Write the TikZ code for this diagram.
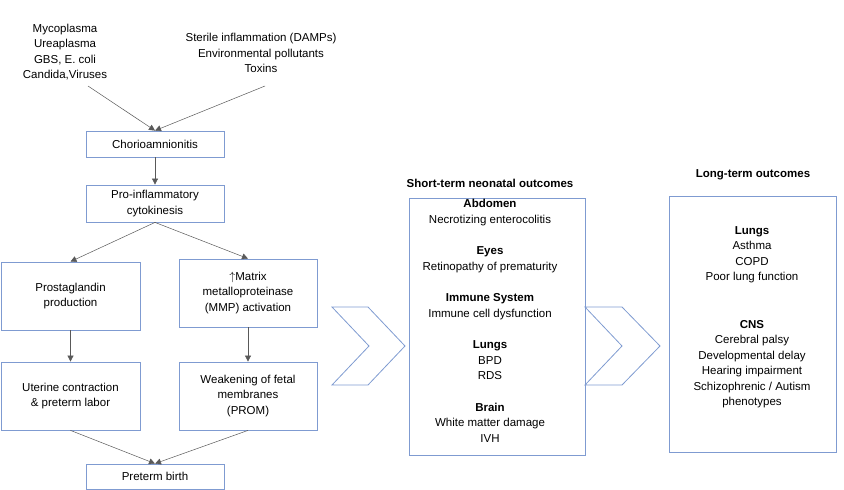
\documentclass[tikz,border=0pt]{standalone}
\usepackage{fontspec}
\setmainfont{Liberation Sans}
\usetikzlibrary{arrows.meta}
\begin{document}
\begin{tikzpicture}[x=1pt,y=-1pt,
  box/.style={draw=boxc,line width=0.8pt,align=center,inner sep=0pt,font=\fontsize{11.5}{15.5}\selectfont},
  txt/.style={align=center,inner sep=0pt,font=\fontsize{11.5}{15.5}\selectfont},
  arr/.style={draw=arrc,line width=0.7pt,-{Triangle[length=6pt,width=6pt]}},
  thin/.style={draw=arrc,line width=0.5pt,-{Triangle[length=6pt,width=6pt]}},
  chev/.style={draw=boxc,line width=0.8pt}]
\definecolor{boxc}{HTML}{7F9BD1}
\definecolor{arrc}{HTML}{595959}
\useasboundingbox (0,0) rectangle (844,490);
\node[txt] (src1) at (65,52) {Mycoplasma\\Ureaplasma\\GBS, E. coli\\Candida,Viruses};
\node[txt] (src2) at (261,53) {Sterile inflammation (DAMPs)\\Environmental pollutants\\Toxins};
\node[box,minimum width=138pt,minimum height=26pt] (cho) at (155,144) {Chorioamnionitis};
\node[box,minimum width=138pt,minimum height=37pt] (pro) at (155,203.5) {Pro-inflammatory\\cytokinesis};
\node[box,minimum width=139pt,minimum height=68pt] (pg) at (70.5,296) {Prostaglandin\\production};
\node[box,minimum width=138pt,minimum height=68pt] (mmp) at (248,293) {$\uparrow$Matrix\\metalloproteinase\\(MMP) activation};
\node[box,minimum width=139pt,minimum height=68pt] (ut) at (70.5,396) {Uterine contraction\\\& preterm labor};
\node[box,minimum width=138pt,minimum height=68pt] (wk) at (248,396) {Weakening of fetal\\membranes\\(PROM)};
\node[box,minimum width=138pt,minimum height=25pt] (pb) at (155,476.5) {Preterm birth};
\coordinate (c1) at (88,86);
\coordinate (c2) at (265,86);
\draw[thin] (c1) -- (cho.north);
\draw[thin] (c2) -- (cho.north);
\draw[arr] (cho) -- (pro);
\draw[thin] (pro.south) -- (pg.north);
\draw[thin] (pro.south) -- (mmp.north);
\draw[arr] (pg) -- (ut);
\draw[arr] (mmp) -- (wk);
\draw[thin] (ut.south) -- (pb.north);
\draw[thin] (wk.south) -- (pb.north);
\draw[chev] (332,307) -- (368,307) -- (405,346) -- (368,385) -- (332,385) -- (369,346) -- cycle;
\draw[chev] (585,307) -- (622,307) -- (660,346) -- (622,385) -- (585,385) -- (622,346) -- cycle;
\node[txt,font=\bfseries\fontsize{11.5}{15.5}\selectfont] (st) at (490,183) {Short-term neonatal outcomes};
\node[box,minimum width=176pt,minimum height=257pt] (sb) at (497,326.5) {};
\node[txt,anchor=north] (stt) at (490,199) {\textbf{Abdomen}\\Necrotizing enterocolitis\\[16pt]\textbf{Eyes}\\Retinopathy of prematurity\\[16pt]\textbf{Immune System}\\Immune cell dysfunction\\[16pt]\textbf{Lungs}\\BPD\\RDS\\[16pt]\textbf{Brain}\\White matter damage\\IVH};
\node[txt,font=\bfseries\fontsize{11.5}{15.5}\selectfont] (lt) at (753,175) {Long-term outcomes};
\node[box,minimum width=167pt,minimum height=256pt] (lb) at (752.5,324) {};
\node[txt,anchor=north] (ltt) at (752,226) {\textbf{Lungs}\\Asthma\\COPD\\Poor lung function\\[32pt]\textbf{CNS}\\Cerebral palsy\\Developmental delay\\Hearing impairment\\Schizophrenic / Autism\\phenotypes};
\end{tikzpicture}
\end{document}
